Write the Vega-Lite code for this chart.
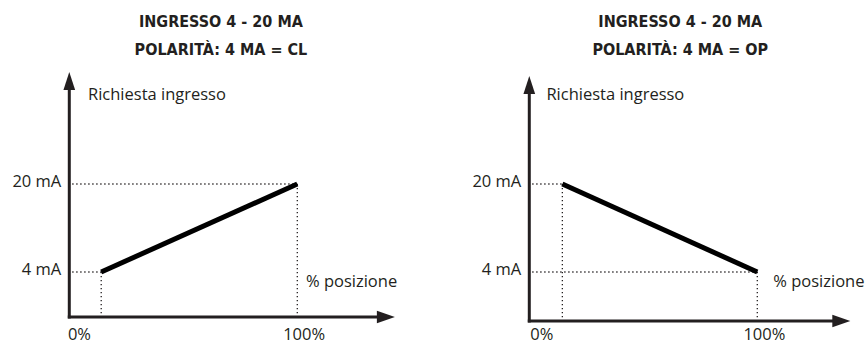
{
  "$schema": "https://vega.github.io/schema/vega-lite/v6.json",
  "padding": 0,
  "spacing": 0,
  "background": "white",
  "config": {"view": {"stroke": null}},
  "resolve": {"scale": {"x": "independent", "y": "independent"}},
  "datasets": {
    "seg": [
      {"panel": "CL", "kind": "axis", "x": 0, "y": -4.18, "x2": 0, "y2": 38.5},
      {"panel": "CL", "kind": "axis", "x": 0, "y": -4.18, "x2": 136, "y2": -4.18},
      {"panel": "CL", "kind": "line", "x": 14, "y": 4, "x2": 100, "y2": 20},
      {"panel": "CL", "kind": "dot", "x": 1.3, "y": 20, "x2": 100, "y2": 20},
      {"panel": "CL", "kind": "dot", "x": 100, "y": 20, "x2": 100, "y2": -4.18},
      {"panel": "CL", "kind": "dot", "x": 1.3, "y": 4, "x2": 14, "y2": 4},
      {"panel": "CL", "kind": "dot", "x": 14, "y": 4, "x2": 14, "y2": -4.18},
      {"panel": "OP", "kind": "axis", "x": 0, "y": -4.91, "x2": 0, "y2": 38},
      {"panel": "OP", "kind": "axis", "x": 0, "y": -4.91, "x2": 134, "y2": -4.91},
      {"panel": "OP", "kind": "line", "x": 14.5, "y": 20, "x2": 100, "y2": 4},
      {"panel": "OP", "kind": "dot", "x": 1.3, "y": 20, "x2": 14.5, "y2": 20},
      {"panel": "OP", "kind": "dot", "x": 14.5, "y": 20, "x2": 14.5, "y2": -4.91},
      {"panel": "OP", "kind": "dot", "x": 1.3, "y": 4, "x2": 100, "y2": 4},
      {"panel": "OP", "kind": "dot", "x": 100, "y": 4, "x2": 100, "y2": -4.91}
    ],
    "arr": [
      {"panel": "CL", "dir": "up", "x": 0, "y": 40.36},
      {"panel": "CL", "dir": "right", "x": 142.8, "y": -4.18},
      {"panel": "OP", "dir": "up", "x": 0, "y": 39.64},
      {"panel": "OP", "dir": "right", "x": 140.8, "y": -4.91}
    ],
    "txt": [
      {"panel": "CL", "role": "title", "x": 66.5, "y": 48.55, "text": "INGRESSO 4 - 20 MA"},
      {"panel": "CL", "role": "title", "x": 66.5, "y": 43.45, "text": "POLARITÀ: 4 MA = CL"},
      {"panel": "CL", "role": "ma", "x": -3.5, "y": 20, "text": "20 mA"},
      {"panel": "CL", "role": "ma", "x": -3.5, "y": 4, "text": "4 mA"},
      {"panel": "CL", "role": "left", "x": 8.2, "y": 35.27, "text": "Richiesta ingresso"},
      {"panel": "CL", "role": "left", "x": 103.8, "y": 1.27, "text": "% posizione"},
      {"panel": "CL", "role": "left", "x": -0.6, "y": -8.36, "text": "0%"},
      {"panel": "CL", "role": "center", "x": 103, "y": -8.36, "text": "100%"},
      {"panel": "OP", "role": "title", "x": 66.2, "y": 48.55, "text": "INGRESSO 4 - 20 MA"},
      {"panel": "OP", "role": "title", "x": 66.2, "y": 43.45, "text": "POLARITÀ: 4 MA = OP"},
      {"panel": "OP", "role": "ma", "x": -3.5, "y": 20, "text": "20 mA"},
      {"panel": "OP", "role": "ma", "x": -3.5, "y": 4, "text": "4 mA"},
      {"panel": "OP", "role": "left", "x": 7.5, "y": 35.27, "text": "Richiesta ingresso"},
      {"panel": "OP", "role": "left", "x": 107, "y": 1.27, "text": "% posizione"},
      {"panel": "OP", "role": "left", "x": 0.4, "y": -8.36, "text": "0%"},
      {"panel": "OP", "role": "center", "x": 103.1, "y": -8.36, "text": "100%"}
    ]
  },
  "hconcat": [
    {
      "width": 460,
      "height": 345,
      "encoding": {
        "x": {"field": "x", "type": "quantitative", "scale": {"domain": [-30.39, 171.36], "nice": false, "zero": false}, "axis": null},
        "y": {"field": "y", "type": "quantitative", "scale": {"domain": [-9.2727, 53.4545], "nice": false, "zero": false}, "axis": null}
      },
      "layer": [
        {"data": {"name": "seg"}, "transform": [{"filter": "datum.panel === 'CL' && datum.kind === 'dot'"}],
         "mark": {"type": "rule", "color": "#231f20", "strokeWidth": 1.3, "strokeDash": [1.3, 2.7]},
         "encoding": {"x2": {"field": "x2"}, "y2": {"field": "y2"}}},
        {"data": {"name": "seg"}, "transform": [{"filter": "datum.panel === 'CL' && datum.kind === 'axis'"}],
         "mark": {"type": "rule", "color": "#231f20", "strokeWidth": 3, "strokeCap": "square"},
         "encoding": {"x2": {"field": "x2"}, "y2": {"field": "y2"}}},
        {"data": {"name": "seg"}, "transform": [{"filter": "datum.panel === 'CL' && datum.kind === 'line'"}],
         "mark": {"type": "rule", "color": "#000000", "strokeWidth": 5, "strokeCap": "butt"},
         "encoding": {"x2": {"field": "x2"}, "y2": {"field": "y2"}}},
        {"data": {"name": "arr"}, "transform": [{"filter": "datum.panel === 'CL'"}],
         "mark": {"type": "point", "filled": true, "opacity": 1, "color": "#231f20", "size": 324, "strokeWidth": 0},
         "encoding": {"shape": {"field": "dir", "type": "nominal", "scale": {"domain": ["up", "right"], "range": ["M0,0L0.65,2L-0.65,2Z", "M0,0L-2,-0.7L-2,0.7Z"]}, "legend": null}}},
        {"data": {"name": "txt"}, "transform": [{"filter": "datum.panel === 'CL' && datum.role === 'title'"}],
         "mark": {"type": "text", "font": "DejaVu Sans Condensed, Liberation Sans Narrow, sans-serif", "fontWeight": "bold", "fontSize": 16, "align": "center", "baseline": "alphabetic", "color": "#231f20"},
         "encoding": {"text": {"field": "text"}}},
        {"data": {"name": "txt"}, "transform": [{"filter": "datum.panel === 'CL' && datum.role === 'ma'"}],
         "mark": {"type": "text", "font": "Open Sans", "fontSize": 16.5, "align": "right", "baseline": "alphabetic", "dy": 3, "color": "#231f20"},
         "encoding": {"text": {"field": "text"}}},
        {"data": {"name": "txt"}, "transform": [{"filter": "datum.panel === 'CL' && datum.role === 'left'"}],
         "mark": {"type": "text", "font": "Open Sans", "fontSize": 16.5, "align": "left", "baseline": "alphabetic", "color": "#231f20"},
         "encoding": {"text": {"field": "text"}}},
        {"data": {"name": "txt"}, "transform": [{"filter": "datum.panel === 'CL' && datum.role === 'center'"}],
         "mark": {"type": "text", "font": "Open Sans", "fontSize": 16.5, "align": "center", "baseline": "alphabetic", "color": "#231f20"},
         "encoding": {"text": {"field": "text"}}}
      ]
    },
    {
      "width": 405,
      "height": 345,
      "encoding": {
        "x": {"field": "x", "type": "quantitative", "scale": {"domain": [-30.39, 147.24], "nice": false, "zero": false}, "axis": null},
        "y": {"field": "y", "type": "quantitative", "scale": {"domain": [-9.2727, 53.4545], "nice": false, "zero": false}, "axis": null}
      },
      "layer": [
        {"data": {"name": "seg"}, "transform": [{"filter": "datum.panel === 'OP' && datum.kind === 'dot'"}],
         "mark": {"type": "rule", "color": "#231f20", "strokeWidth": 1.3, "strokeDash": [1.3, 2.7]},
         "encoding": {"x2": {"field": "x2"}, "y2": {"field": "y2"}}},
        {"data": {"name": "seg"}, "transform": [{"filter": "datum.panel === 'OP' && datum.kind === 'axis'"}],
         "mark": {"type": "rule", "color": "#231f20", "strokeWidth": 3, "strokeCap": "square"},
         "encoding": {"x2": {"field": "x2"}, "y2": {"field": "y2"}}},
        {"data": {"name": "seg"}, "transform": [{"filter": "datum.panel === 'OP' && datum.kind === 'line'"}],
         "mark": {"type": "rule", "color": "#000000", "strokeWidth": 5, "strokeCap": "butt"},
         "encoding": {"x2": {"field": "x2"}, "y2": {"field": "y2"}}},
        {"data": {"name": "arr"}, "transform": [{"filter": "datum.panel === 'OP'"}],
         "mark": {"type": "point", "filled": true, "opacity": 1, "color": "#231f20", "size": 324, "strokeWidth": 0},
         "encoding": {"shape": {"field": "dir", "type": "nominal", "scale": {"domain": ["up", "right"], "range": ["M0,0L0.65,2L-0.65,2Z", "M0,0L-2,-0.7L-2,0.7Z"]}, "legend": null}}},
        {"data": {"name": "txt"}, "transform": [{"filter": "datum.panel === 'OP' && datum.role === 'title'"}],
         "mark": {"type": "text", "font": "DejaVu Sans Condensed, Liberation Sans Narrow, sans-serif", "fontWeight": "bold", "fontSize": 16, "align": "center", "baseline": "alphabetic", "color": "#231f20"},
         "encoding": {"text": {"field": "text"}}},
        {"data": {"name": "txt"}, "transform": [{"filter": "datum.panel === 'OP' && datum.role === 'ma'"}],
         "mark": {"type": "text", "font": "Open Sans", "fontSize": 16.5, "align": "right", "baseline": "alphabetic", "dy": 3, "color": "#231f20"},
         "encoding": {"text": {"field": "text"}}},
        {"data": {"name": "txt"}, "transform": [{"filter": "datum.panel === 'OP' && datum.role === 'left'"}],
         "mark": {"type": "text", "font": "Open Sans", "fontSize": 16.5, "align": "left", "baseline": "alphabetic", "color": "#231f20"},
         "encoding": {"text": {"field": "text"}}},
        {"data": {"name": "txt"}, "transform": [{"filter": "datum.panel === 'OP' && datum.role === 'center'"}],
         "mark": {"type": "text", "font": "Open Sans", "fontSize": 16.5, "align": "center", "baseline": "alphabetic", "color": "#231f20"},
         "encoding": {"text": {"field": "text"}}}
      ]
    }
  ]
}
